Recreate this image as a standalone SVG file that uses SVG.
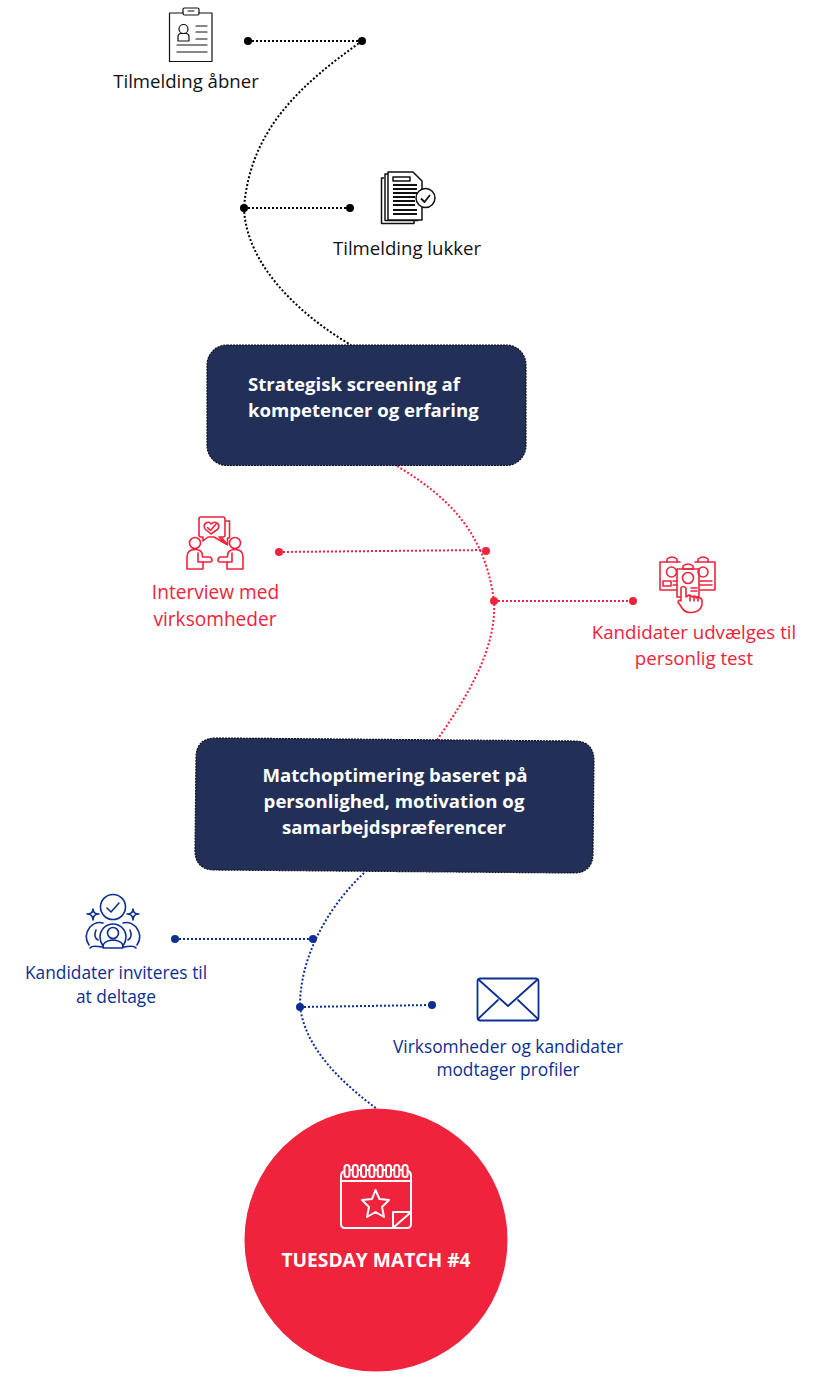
<svg xmlns="http://www.w3.org/2000/svg" width="819" height="1383" viewBox="0 0 819 1383">
<style>
text{font-family:"Open Sans","Noto Sans","Liberation Sans",sans-serif;font-size:18.6px;text-anchor:middle}
.b{font-weight:700;fill:#fff}
.bl{font-size:17.35px;fill:#0d2f91}
.rd{fill:#ef233c;font-size:18.7px}
.rd2{fill:#ef233c;font-size:19.1px}
.dot{fill:none;stroke-width:2;stroke-dasharray:2 2}
.k{stroke:#000}.r{stroke:#ef233c}.n{stroke:#0d2f91}
.ic{fill:none;stroke-width:1.6;stroke-linecap:round;stroke-linejoin:round}
.box{fill:#223057;stroke:#0b0f1e;stroke-width:1.2;stroke-dasharray:2 1}
</style>
<rect width="819" height="1383" fill="#fff"/>
<g id="connectors">
<path class="dot k" d="M248 41H362"/>
<path class="dot k" d="M362 41C300 85 250 130 244 208C246 265 300 315 351 345"/>
<path class="dot k" d="M244 208H350"/>
<path class="dot r" d="M397 466C445 495 485 530 494 601C497 650 465 700 437 740"/>
<path class="dot r" d="M279 552L486 550"/>
<path class="dot r" d="M494 601H633"/>
<path class="dot n" d="M364 873C335 900 300 950 300 1006C305 1050 345 1085 377 1109"/>
<path class="dot n" d="M175 939H313"/>
<path class="dot n" d="M300 1007L432 1005"/>
<g fill="#000"><circle cx="248" cy="41" r="4"/><circle cx="362" cy="41" r="4"/><circle cx="244" cy="208" r="4"/><circle cx="350" cy="208" r="4"/></g>
<g fill="#ef233c"><circle cx="279" cy="552" r="4"/><circle cx="486" cy="551" r="4"/><circle cx="494" cy="601" r="4"/><circle cx="633" cy="601" r="4"/></g>
<g fill="#0d2f91"><circle cx="175" cy="939" r="4"/><circle cx="313" cy="939" r="4"/><circle cx="300" cy="1007" r="4"/><circle cx="432" cy="1005" r="4"/></g>
</g>
<g id="node-aabner">
<g class="ic" stroke="#111" style="stroke-width:1.2">
<path d="M183 13H169.500V61.500H212V13H199"/><rect x="183" y="8" width="16" height="7" rx="1.500"/><path d="M188 11H194"/>
<circle cx="183.500" cy="29" r="4.500"/><path d="M178 41V37Q178 33.500 181 33.500H186Q189 33.500 189 37V41Z"/>
<path d="M196 26H207M196 32H207M196 39H207M177 45H207M177 52H207"/></g>
<text x="186" y="88" fill="#111">Tilmelding åbner</text>
</g>
<g id="node-lukker">
<g fill="none" stroke="#111" stroke-width="1.500" stroke-linejoin="round">
<path d="M384 178H381.500V223.500H414V221"/><path d="M388 174H385V220.500H418V218"/>
<path d="M388 172H413L422 181V220H388Z" fill="#fff"/>
<path d="M393 177H410V181H393Z"/>
<path d="M393 185H417M393 189H417M393 193H417M393 197H415M393 201H415M393 205H415M393 210H417M393 214H417" stroke-width="1.800"/>
<circle cx="425.500" cy="198" r="9.500" fill="#fff"/><path d="M421 198.500L424.500 202L430 195" stroke-width="1.800"/></g>
<text x="407" y="255" fill="#111">Tilmelding lukker</text>
</g>
<g id="node-screening">
<rect class="box" x="207" y="345" width="319" height="120.500" rx="20"/>
<text class="b" x="248" y="391" style="text-anchor:start">Strategisk screening af</text>
<text class="b" x="248" y="417" style="text-anchor:start">kompetencer og erfaring</text>
</g>
<g id="node-interview">
<g class="ic" stroke="#ef233c">
<path d="M225 521H229.500V538H227.500V545L222 538"/>
<path d="M201 517H223Q225 517 225 519V535Q225 537 223 537H219L226 544L214 537H208L203 541V537H201Q199 537 199 535V519Q199 517 201 517Z" fill="#fff"/>
<path d="M211 534L205 529Q203 525 206 523Q209 521 211 524Q214 521 217 523Q220 525 218 529Z"/>
<path d="M207.500 527.500L210.500 530.500L216 524"/>
<g id="p"><circle cx="195" cy="543" r="5.500"/>
<path d="M187 569V557Q187 549.500 195 549.500Q202.500 549.500 202.500 556V557H210Q212 558 212 560Q212 562 210 562H203V569Z"/><path d="M198 553V562H203"/></g>
<g transform="translate(430) scale(-1 1)"><circle cx="195" cy="543" r="5.500"/>
<path d="M187 569V557Q187 549.500 195 549.500Q202.500 549.500 202.500 556V557H210Q212 558 212 560Q212 562 210 562H203V569Z"/><path d="M198 553V562H203"/></g>
</g>
<text class="rd2" x="215.500" y="599">Interview med</text>
<text class="rd2" x="215" y="626">virksomheder</text>
</g>
<g id="node-udvaelges">
<g class="ic" stroke="#ef233c">
<path d="M677 590H660V562H667M677 562H680"/><path d="M700 590H715V562H708M698 562H695"/>
<path d="M667 562V559Q672 555 677 559V562Z"/><path d="M698 562V559Q703 555 708 559V562Z"/>
<circle cx="671.500" cy="572" r="5"/><circle cx="703" cy="572" r="5"/>
<rect x="663" y="581" width="8" height="5"/>
<path d="M673 581H677M673 585H677M700 581H712M700 585H712"/>
<path d="M677 569H699V597H677Z"/><path d="M683 569V566Q688 562 693 566V569Z"/>
<circle cx="688" cy="578" r="5.500"/><path d="M691 588H697M691 591H697"/>
<path d="M681 597V588Q683 585 686 588V597L689 595Q691 595 692 597L694 596Q696 596 696 598L698 597Q702 598 702 601V605Q700 612 692 612.500Q685 613 682 608L678 602Q679 599 681 601Z" fill="#fff"/>
<path d="M690 596V601M694 597V601M698 598V601"/></g>
<text class="rd" x="694" y="639">Kandidater udvælges til</text>
<text class="rd" x="694" y="665">personlig test</text>
</g>
<g id="node-matchoptimering">
<path class="box" d="M216 738L574 741Q594 741 594 761L593 853Q593 873 573 873L215 870Q195 870 195 850L196 758Q196 738 216 738Z"/>
<text class="b" x="395" y="782">Matchoptimering baseret på</text>
<text class="b" x="394" y="808">personlighed, motivation og</text>
<text class="b" x="394" y="834">samarbejdspræferencer</text>
</g>
<g id="node-inviteres">
<g class="ic" stroke="#0d2f91">
<circle cx="113" cy="907" r="12.500"/><path d="M107 908L111 912L119 903"/>
<path d="M93 909Q93 914 87 914Q93 914 93 920Q93 914 99 914Q93 914 93 909Z"/>
<path d="M133 909Q133 914 127 914Q133 914 133 920Q133 914 139 914Q133 914 133 909Z"/>
<circle cx="113" cy="933" r="5.500"/><path d="M103 948Q102 941 113 940Q124 941 123 948Z"/>
<path d="M103 946Q100 942 100 937A13 13 0 0 1 126 937Q126 942 123 946"/>
<path d="M103 923Q96 921 90 927Q83 936 89 945M90 948Q92 945 102 947M96 930Q93 937 98 940"/>
<path d="M123 923Q130 921 136 927Q143 936 137 945M136 948Q134 945 124 947M130 930Q133 937 128 940"/></g>
<text class="bl" x="116" y="979">Kandidater inviteres til</text>
<text class="bl" x="116" y="1003">at deltage</text>
</g>
<g id="node-modtager">
<g fill="none" stroke="#0d2f91" stroke-width="1.800" stroke-linejoin="round" stroke-linecap="round">
<rect x="477.500" y="978.500" width="61" height="42" rx="3"/><path d="M479 980L508 1006L537 980M478 1019L498 1000M538 1019L518 1000"/></g>
<text class="bl" x="508" y="1053">Virksomheder og kandidater</text>
<text class="bl" x="508" y="1076">modtager profiler</text>
</g>
<g id="node-tuesday">
<circle cx="376" cy="1240" r="131.500" fill="#ef233c"/>
<g fill="none" stroke="#fff" stroke-width="2" stroke-linejoin="round" stroke-linecap="round">
<path d="M345 1171Q341 1172 341 1176V1224Q341 1228 345 1228H393V1212H411V1176Q411 1172 408 1171M341 1181H411M350 1170H404"/>
<path d="M393 1228H407Q411 1228 411 1224V1212M394 1227L410 1213"/>
<g id="rings"><rect x="344.500" y="1165" width="5" height="12" rx="2.500" fill="#ef233c"/><rect x="352.800" y="1165" width="5" height="12" rx="2.500" fill="#ef233c"/><rect x="361.100" y="1165" width="5" height="12" rx="2.500" fill="#ef233c"/><rect x="369.400" y="1165" width="5" height="12" rx="2.500" fill="#ef233c"/><rect x="377.700" y="1165" width="5" height="12" rx="2.500" fill="#ef233c"/><rect x="386" y="1165" width="5" height="12" rx="2.500" fill="#ef233c"/><rect x="394.300" y="1165" width="5" height="12" rx="2.500" fill="#ef233c"/><rect x="402.600" y="1165" width="5" height="12" rx="2.500" fill="#ef233c"/></g>
<path d="M375.500 1190L379.500 1199L389 1200L382 1207L384 1217L375.500 1212L367 1217L369 1207L362 1200L372 1199Z"/></g>
<text x="376" y="1267" style="font-weight:700;font-size:19.2px" fill="#fff">TUESDAY MATCH #4</text>
</g>
</svg>
